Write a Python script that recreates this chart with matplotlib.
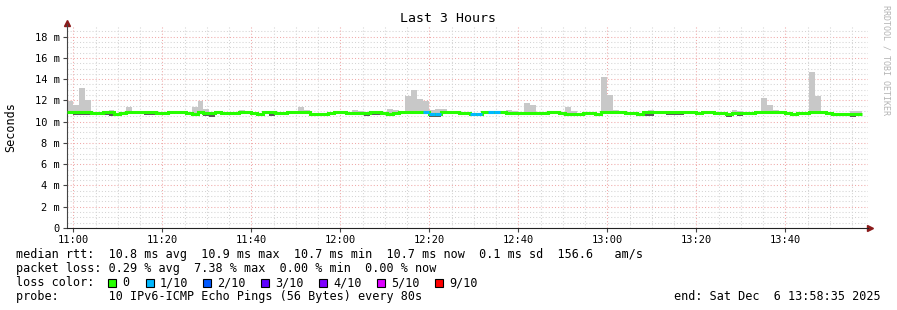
# SmokePing style latency graph (last 3 hours), rebuilt with matplotlib.
import numpy as np
import matplotlib
matplotlib.use("Agg")
import matplotlib.pyplot as plt
from matplotlib.patches import Rectangle

W, H = 897, 310
MONO = "DejaVu Sans Mono"

# ---- data: one value per 80 s probe round, starting 10:58:35 (ms) ----
STEP_S = 80
START_S = -85          # seconds relative to 11:00:00
END_S = 10715          # 13:58:35

median = [
    10.91, 10.91, 10.91, 10.91, 10.78, 10.80, 10.90, 10.87, 10.75, 10.78,
    10.90, 10.87, 10.87, 10.92, 10.92, 10.82, 10.82, 10.92, 10.87, 10.92,
    10.78, 10.72, 10.88, 10.84, 10.78, 10.92, 10.86, 10.85, 10.85, 10.91,
    10.91, 10.80, 10.69, 10.88, 10.88, 10.83, 10.83, 10.93, 10.87, 10.87,
    10.87, 10.75, 10.70, 10.70, 10.80, 10.92, 10.92, 10.80, 10.86, 10.86,
    10.86, 10.92, 10.92, 10.80, 10.72, 10.86, 10.92, 10.92, 10.92, 10.92,
    10.92, 10.75, 10.75, 10.87, 10.90, 10.90, 10.80, 10.80, 10.75, 10.75,
    10.87, 10.93, 10.88, 10.92, 10.86, 10.86, 10.86, 10.86, 10.86, 10.86,
    10.86, 10.90, 10.90, 10.80, 10.73, 10.73, 10.73, 10.80, 10.80, 10.70,
    10.90, 10.90, 10.92, 10.92, 10.83, 10.83, 10.73, 10.87, 10.87, 10.87,
    10.87, 10.93, 10.93, 10.93, 10.93, 10.87, 10.78, 10.91, 10.91, 10.86,
    10.80, 10.72, 10.84, 10.84, 10.80, 10.86, 10.92, 10.92, 10.92, 10.92,
    10.92, 10.80, 10.72, 10.86, 10.86, 10.92, 10.92, 10.92, 10.80, 10.73,
    10.73, 10.73, 10.70, 10.70,
]

smoke_hi = [
    11.90, 11.60, 13.20, 12.00, 10.90, 10.90, 11.00, 11.13, 10.85, 10.90,
    11.35, 11.04, 10.95, 10.95, 10.95, 10.90, 10.90, 10.95, 10.95, 10.95,
    10.90, 11.35, 11.90, 11.16, 10.90, 10.95, 10.95, 10.95, 10.95, 11.13,
    10.95, 10.90, 10.80, 10.95, 10.95, 10.90, 10.90, 10.95, 10.95, 11.35,
    11.13, 10.85, 10.80, 10.80, 10.90, 10.95, 10.95, 10.90, 11.13, 11.04,
    10.95, 10.95, 10.95, 10.90, 11.23, 11.13, 10.95, 12.39, 13.02, 12.17,
    11.92, 11.13, 11.23, 11.23, 11.04, 11.04, 10.90, 10.90, 10.85, 10.85,
    11.04, 10.95, 10.95, 10.95, 11.13, 11.04, 10.95, 11.76, 11.54, 10.95,
    10.95, 10.95, 10.95, 10.90, 11.35, 11.04, 10.85, 10.90, 10.90, 10.80,
    14.18, 12.55, 11.13, 11.04, 10.90, 10.90, 10.85, 10.95, 11.13, 10.95,
    10.95, 10.95, 10.95, 10.95, 10.95, 10.95, 10.90, 10.95, 10.95, 10.95,
    10.90, 10.85, 11.13, 11.04, 10.90, 10.95, 10.95, 12.23, 11.54, 11.13,
    11.04, 10.90, 10.85, 10.95, 10.95, 14.69, 12.39, 10.95, 10.90, 10.85,
    10.85, 10.85, 11.00, 11.00,
]

smoke_lo = [
    10.83, 10.61, 10.61, 10.61, 10.70, 10.72, 10.60, 10.57, 10.67, 10.70,
    10.82, 10.79, 10.79, 10.62, 10.62, 10.74, 10.74, 10.84, 10.79, 10.84,
    10.70, 10.64, 10.80, 10.54, 10.48, 10.84, 10.78, 10.77, 10.77, 10.83,
    10.83, 10.72, 10.61, 10.80, 10.58, 10.75, 10.75, 10.85, 10.79, 10.79,
    10.79, 10.67, 10.62, 10.62, 10.72, 10.84, 10.84, 10.72, 10.78, 10.78,
    10.56, 10.62, 10.62, 10.72, 10.64, 10.78, 10.84, 10.84, 10.84, 10.84,
    10.84, 10.45, 10.45, 10.79, 10.82, 10.82, 10.72, 10.72, 10.67, 10.67,
    10.79, 10.85, 10.80, 10.84, 10.78, 10.78, 10.78, 10.78, 10.78, 10.78,
    10.78, 10.82, 10.82, 10.72, 10.65, 10.65, 10.65, 10.72, 10.72, 10.62,
    10.82, 10.82, 10.84, 10.84, 10.75, 10.75, 10.65, 10.57, 10.57, 10.79,
    10.79, 10.63, 10.63, 10.63, 10.85, 10.79, 10.70, 10.83, 10.83, 10.78,
    10.72, 10.42, 10.76, 10.54, 10.72, 10.78, 10.84, 10.84, 10.84, 10.84,
    10.84, 10.72, 10.64, 10.78, 10.78, 10.84, 10.84, 10.84, 10.72, 10.65,
    10.65, 10.65, 10.40, 10.62,
]

# lost pings (out of 10) per round
loss = [0] * 134
for i in (60, 61, 62, 68, 69, 71, 72):
    loss[i] = 1

loss_labels = ["0", "1/10", "2/10", "3/10", "4/10", "5/10", "9/10"]
loss_colors = ["#26ff00", "#00b8ff", "#0059ff", "#5e00ff", "#7e00ff", "#dd00ff", "#ff0000"]

y_ticks = [0, 2, 4, 6, 8, 10, 12, 14, 16, 18]
x_ticks_min = [0, 20, 40, 60, 80, 100, 120, 140, 160]
x_labels = ["11:00", "11:20", "11:40", "12:00", "12:20", "12:40", "13:00", "13:20", "13:40"]

stats_lines = [
    "median rtt:  10.8 ms avg  10.9 ms max  10.7 ms min  10.7 ms now  0.1 ms sd  156.6   am/s",
    "packet loss: 0.29 % avg  7.38 % max  0.00 % min  0.00 % now",
]
probe_line = "probe:       10 IPv6-ICMP Echo Pings (56 Bytes) every 80s"
end_line = "end: Sat Dec  6 13:58:35 2025"


def fx(px):
    return px / W


def fy(py):
    return 1 - py / H


fig = plt.figure(figsize=(W / 100, H / 100), dpi=100)
ax = fig.add_axes([fx(67), fy(228), 801 / W, 202 / H])

med = np.array(median)
edges = (START_S + np.arange(len(med) + 1) * STEP_S) / 60.0  # minutes after 11:00

# grid (rrdtool look)
for v in np.arange(0.5, 19, 0.5):
    major = abs(v % 2) < 1e-9
    ax.axhline(v, color="#f0a8a8" if major else "#d4d4d4", lw=0.75,
               dashes=(1, 2), zorder=0)
for m in np.arange(0, 180, 5):
    major = m % 20 == 0
    ax.axvline(m, color="#f0a8a8" if major else "#d4d4d4", lw=0.75,
               dashes=(1, 2), zorder=0)

# smoke
ax.stairs(smoke_hi, edges, baseline=med, fill=True, color="#c8c8c8", lw=0, zorder=2)
ax.stairs(med, edges, baseline=smoke_lo, fill=True, color="#5a5a5a", lw=0, zorder=2)

# median line coloured by loss
ax.stairs(med, edges, baseline=None, color=loss_colors[0], lw=2.2, zorder=3)
for i, l in enumerate(loss):
    if l > 0:
        ax.hlines(med[i], edges[i], edges[i + 1], color=loss_colors[l], lw=2.2, zorder=4)

ax.set_xlim(START_S / 60.0, END_S / 60.0)
ax.set_ylim(0, 19)

ax.set_yticks(y_ticks)
ax.set_yticklabels(["0"] + [f"{v} m" for v in y_ticks[1:]])
ax.set_xticks(x_ticks_min)
ax.set_xticklabels(x_labels)
ax.tick_params(axis="both", labelsize=7.5, length=3, width=0.8, color="#444444", pad=2)
for lab in ax.get_xticklabels() + ax.get_yticklabels():
    lab.set_fontfamily(MONO)

for s in ("top", "right"):
    ax.spines[s].set_visible(False)
ax.spines["left"].set_color("#444444")
ax.spines["bottom"].set_color("#222222")
ax.spines["left"].set_bounds(0, 19.2)

# axis arrows
ax.plot([0], [1.015], marker="^", markersize=4, color="#8b1a1a", transform=ax.transAxes, clip_on=False)
ax.plot([1.003], [0], marker=">", markersize=4, color="#8b1a1a", transform=ax.transAxes, clip_on=False)

# texts
fig.text(fx(448), fy(19), "Last 3 Hours", family=MONO, fontsize=9.5, ha="center", va="center")
fig.text(fx(11), fy(127), "Seconds", family=MONO, fontsize=8.5, rotation=90, ha="center", va="center")
fig.text(fx(886), fy(60), "RRDTOOL / TOBI OETIKER", family=MONO, fontsize=6, color="#b4b4b4",
         rotation=270, ha="center", va="center")

for k, line in enumerate(stats_lines):
    fig.text(fx(16), fy(254.3 + 14.2 * k), line, family=MONO, fontsize=8.5, ha="left", va="center")

fig.text(fx(16), fy(282.7), "loss color:", family=MONO, fontsize=8.5, ha="left", va="center")
box_x = [108, 146, 203, 261, 319, 377, 435]
for bx, lab, col in zip(box_x, loss_labels, loss_colors):
    fig.patches.append(Rectangle((fx(bx), fy(286.7)), 8 / W, 8 / H, transform=fig.transFigure,
                                 facecolor=col, edgecolor="black", lw=0.8))
    fig.text(fx(bx + 14), fy(282.7), lab, family=MONO, fontsize=8.5, ha="left", va="center")

fig.text(fx(16), fy(296.7), probe_line, family=MONO, fontsize=8.5, ha="left", va="center")
fig.text(fx(881), fy(296.7), end_line, family=MONO, fontsize=8.5, ha="right", va="center")

fig.savefig("out.png", dpi=100, facecolor="white")
